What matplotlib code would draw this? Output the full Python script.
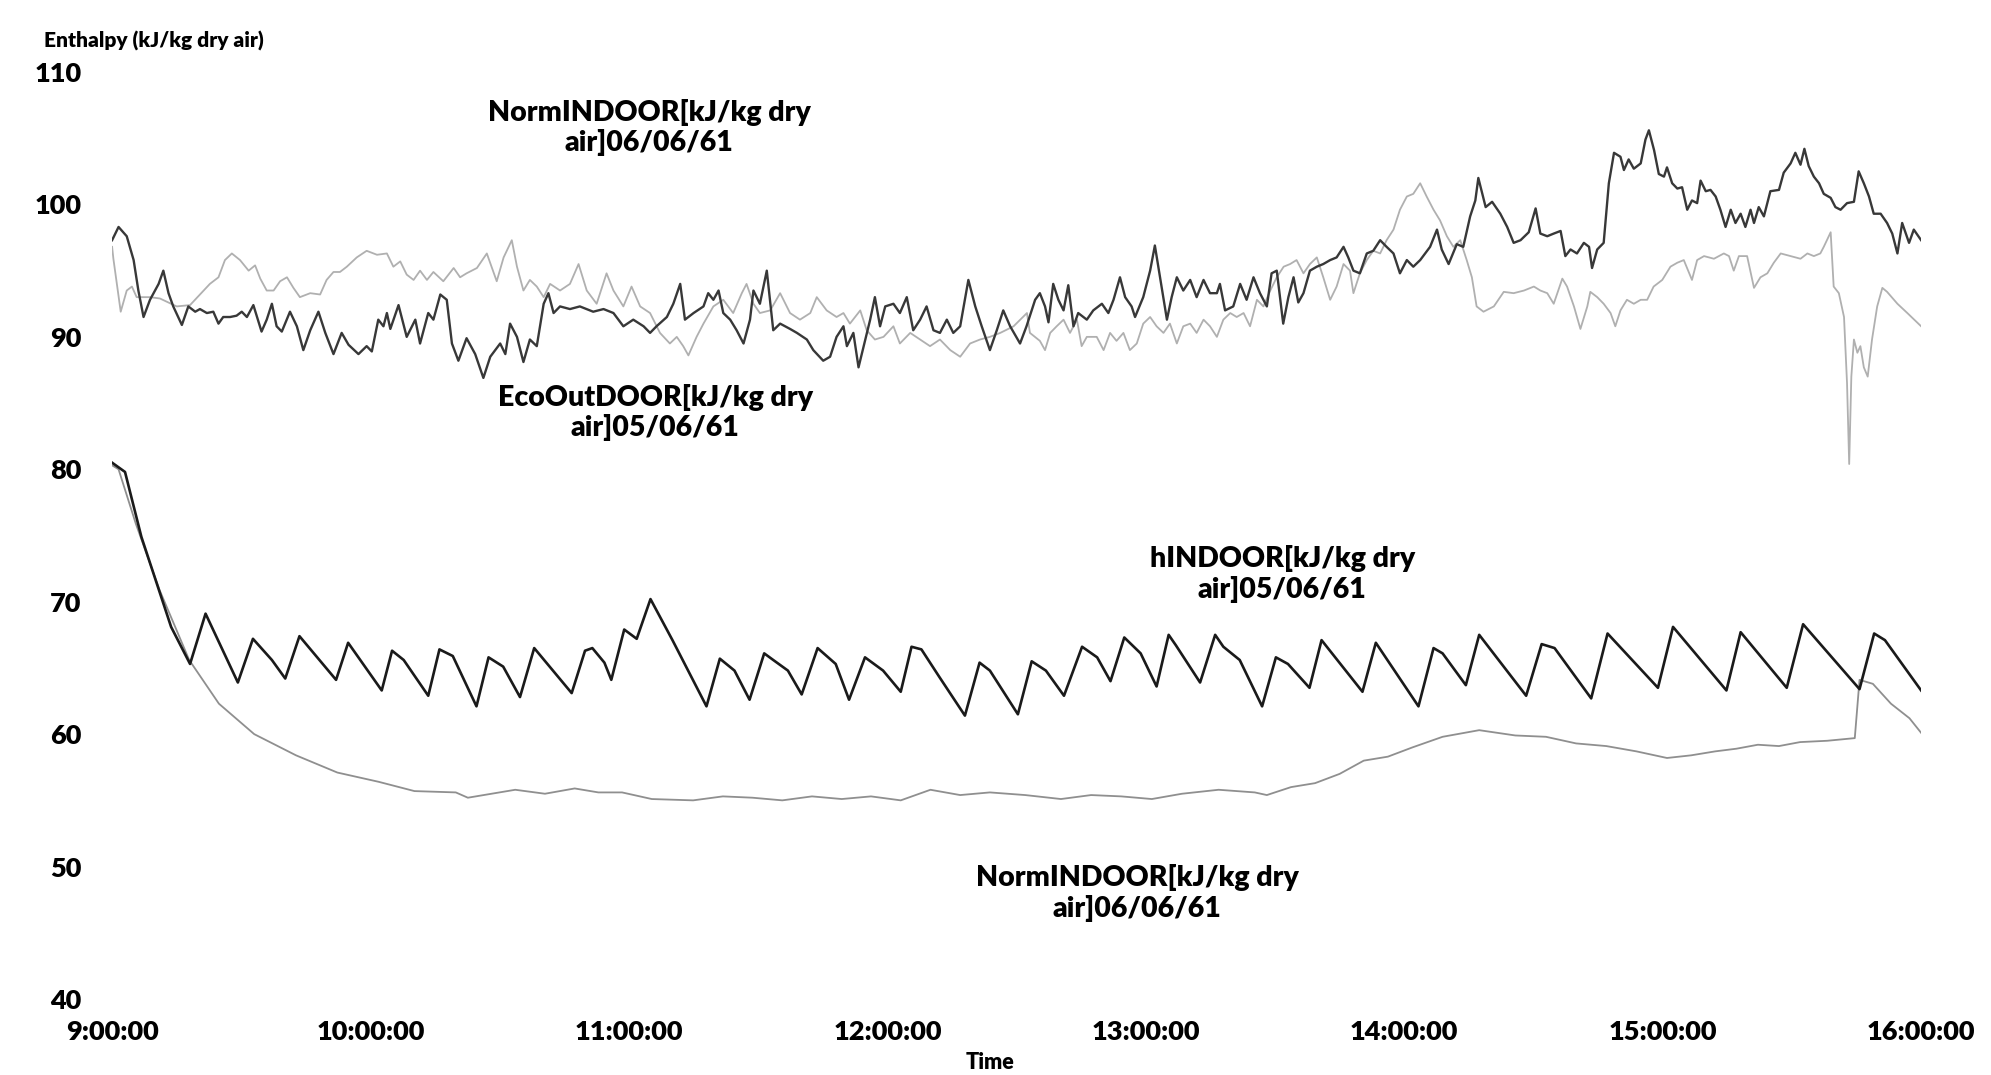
import matplotlib
matplotlib.use("Agg")
import matplotlib.pyplot as plt

# minutes after 9:00:00, enthalpy in kJ/kg dry air
# outdoor 05/06 (dark, noisy)
out0506_t = [0, 1.5, 3.4, 5.0, 6.1, 7.3, 8.8, 10.8, 11.9, 13.1, 14.2, 16.2, 17.7, 19.3, 20.4, 22.0,
             23.5, 24.7, 25.8, 27.4, 28.9, 30.1, 31.3, 32.8, 34.7, 35.9, 37.1, 38.2, 39.4, 41.3, 42.9,
             44.4, 46.0, 47.9, 49.5, 51.4, 53.3, 54.9, 57.2, 59.1, 60.3, 61.8, 63.0, 63.8, 64.6, 66.5,
             68.4, 70.4, 71.5, 73.4, 74.6, 76.2, 77.7, 78.9, 80.4, 82.3, 84.3, 86.2, 87.8, 90.1, 91.3,
             92.4, 94.0, 95.5, 97.0, 98.6, 100.2, 101.3, 102.5, 104.0, 106.3, 108.6, 111.7, 114.1,
             116.4, 118.7, 121.0, 123.4, 124.9, 126.4, 128.8, 130.3, 131.9, 133.0, 135.0, 137.3, 138.4,
             139.6, 140.8, 141.9, 143.5, 145.0, 146.6, 148.1, 148.9, 150.4, 152.0, 153.5, 155.1, 157.4,
             159.0, 161.3, 162.8, 165.1, 166.7, 168.2, 169.8, 170.6, 172.1, 173.3, 174.8, 176.0, 177.1,
             178.3, 179.5, 181.4, 182.9, 184.5, 186.0, 187.6, 189.1, 190.7, 192.2, 193.8, 195.3, 196.9,
             198.8, 200.4, 201.9, 203.8, 205.4, 206.9, 208.5, 210.8, 212.3, 214.3, 215.4, 216.6, 217.4,
             218.5, 219.7, 220.9, 222.0, 223.2, 224.3, 226.3, 227.8, 229.8, 231.3, 232.5, 234.0, 235.2,
             236.7, 237.5, 239.4, 241.0, 242.1, 243.3, 244.9, 246.0, 247.2, 248.7, 250.3, 251.8, 253.4,
             254.9, 256.5, 257.2, 258.4, 260.3, 261.9, 263.4, 265.0, 266.5, 268.1, 269.2, 270.4, 271.9,
             273.1, 274.3, 275.4, 276.6, 278.1, 279.7, 281.2, 282.8, 284.3, 285.9, 287.0, 288.2, 289.7,
             291.3, 292.8, 294.4, 295.9, 297.5, 299.0, 300.6, 302.1, 303.7, 306.0, 307.6, 308.7, 310.3,
             312.2, 313.7, 315.3, 316.5, 317.2, 318.9, 320.4, 322.3, 323.9, 325.4, 327.0, 328.9, 330.5,
             331.6, 333.2, 334.7, 336.3, 337.4, 338.6, 340.1, 341.7, 342.9, 343.6, 344.8, 346.3, 347.5,
             348.7, 350.2, 351.0, 352.1, 353.3, 354.9, 356.0, 356.8, 358.0, 359.1, 360.3, 361.0, 362.2,
             363.4, 364.5, 365.7, 366.8, 368.0, 368.8, 370.0, 371.1, 372.3, 373.4, 374.6, 375.8, 376.9,
             378.1, 379.2, 380.4, 381.2, 382.3, 383.5, 385.0, 387.0, 388.1, 389.7, 390.8, 392.0, 392.9,
             393.9, 395.1, 396.3, 397.4, 399.0, 400.1, 401.3, 402.8, 404.4, 405.5, 406.7, 407.9, 409.0,
             410.6, 412.1, 413.3, 414.5, 415.6, 417.2, 418.3, 420.0]
out0506_v = [97.3, 98.3, 97.6, 95.8, 93.5, 91.5, 92.8, 94.0, 95.0, 93.3, 92.3, 90.9, 92.3, 91.9, 92.1, 91.8,
             91.9, 91.0, 91.5, 91.5, 91.6, 91.9, 91.5, 92.4, 90.4, 91.3, 92.5, 90.8, 90.4, 91.9, 90.8,
             89.0, 90.5, 91.9, 90.3, 88.7, 90.3, 89.4, 88.7, 89.3, 88.9, 91.3, 90.8, 91.8, 90.6, 92.4,
             90.0, 91.3, 89.5, 91.8, 91.3, 93.2, 92.8, 89.5, 88.2, 89.9, 88.7, 86.9, 88.5, 89.5, 88.7,
             91.0, 90.0, 88.1, 89.8, 89.3, 92.5, 93.3, 91.8, 92.3, 92.1, 92.3, 91.9, 92.1,
             91.8, 90.8, 91.3, 90.8, 90.3, 90.8, 91.5, 92.5, 94.0, 91.3, 91.8, 92.3, 93.3,
             92.8, 93.5, 91.8, 91.3, 90.5, 89.5, 91.3, 93.5, 92.5, 95.0, 90.5, 91.0, 90.6,
             90.3, 89.8, 89.0, 88.2, 88.5, 90.0, 90.8, 89.3, 90.3, 87.7, 89.7, 91.3, 93.0,
             90.8, 92.3, 92.5, 91.8, 93.0, 90.5, 91.3, 92.3, 90.5, 90.3, 91.3, 90.3, 90.8,
             94.3, 92.3, 90.8, 89.0, 90.5, 92.0, 90.8, 89.5, 90.8, 92.8, 93.3, 92.3, 91.1,
             94.0, 92.8, 92.0, 93.9, 90.8, 91.8, 91.3, 92.0, 92.5, 91.8, 92.8, 94.5, 93.0,
             92.3, 91.5, 93.0, 95.0, 96.9, 94.5, 91.3, 93.0, 94.5, 93.5, 94.3, 93.0, 94.3,
             93.3, 93.3, 94.0, 92.0, 92.3, 94.0, 92.8, 94.5, 93.3, 92.3, 94.8, 95.0, 91.0,
             93.0, 94.5, 92.6, 93.3, 95.0, 95.3, 95.5, 95.8, 96.0, 96.8, 96.0, 95.0, 94.8,
             96.3, 96.5, 97.3, 96.8, 96.3, 94.8, 95.8, 95.3, 95.8, 96.8, 98.1, 96.6, 95.5,
             97.0, 96.8, 99.1, 100.3, 102.0, 99.8, 100.2, 99.3, 98.3, 97.1, 97.3, 97.9, 99.7,
             97.8, 97.6, 97.8, 98.0, 96.1, 96.6, 96.3, 97.1, 96.8, 95.2, 96.6, 97.1, 101.6,
             103.9, 103.6, 102.6, 103.4, 102.7, 103.1, 104.9, 105.6, 104.1, 102.3, 102.1, 102.8, 101.6,
             101.2, 101.3, 99.6, 100.3, 100.1, 101.8, 101.0, 101.1, 100.6, 99.6, 98.3, 99.6, 98.6,
             99.3, 98.3, 99.6, 98.6, 99.8, 99.1, 101.0, 101.1, 102.4, 103.1, 103.9, 103.0, 104.2,
             102.9, 102.1, 101.6, 100.8, 100.5, 99.8, 99.6, 100.1, 100.2, 102.5, 101.6, 100.6, 99.3,
             99.3, 98.6, 97.8, 96.3, 98.6, 97.1, 98.1, 97.3]

# outdoor 06/06 (light grey, noisy)
out0606_t = [0, 0.3, 2.0, 3.4, 4.6, 5.7, 8.8, 11.1, 15.0, 18.1, 20.4, 22.7, 24.7, 26.2, 27.8, 29.7,
             31.7, 33.2, 34.4, 35.9, 37.5, 39.0, 40.6, 42.1, 43.6, 46.0, 48.3, 49.8, 51.4, 52.9, 54.5,
             56.8, 59.1, 61.5, 63.8, 65.3, 66.9, 68.4, 70.0, 71.5, 73.1, 74.6, 76.9, 79.3, 80.8, 82.3,
             84.7, 87.0, 89.3, 90.9, 92.8, 94.0, 95.5, 97.0, 98.6, 100.2, 101.7, 104.0, 106.3, 108.3,
             110.2, 112.5, 114.8, 116.4, 118.7, 120.6, 122.6, 124.9, 127.2, 129.5, 131.1, 132.6, 133.8,
             135.7, 137.3, 139.6, 141.9, 144.2, 146.2, 147.3, 148.9, 150.4, 152.8, 155.1, 157.4, 159.7,
             162.1, 163.6, 165.9, 168.2, 169.8, 171.3, 173.7, 175.2, 177.1, 179.1, 181.4, 182.9, 185.3,
             187.6, 189.9, 192.2, 194.6, 196.9, 199.2, 201.5, 203.8, 206.2, 209.3, 212.4, 213.1, 215.4,
             216.6, 217.8, 219.3, 220.9, 222.4, 224.0, 225.1, 226.3, 228.6, 230.2, 231.7, 233.2, 234.8,
             236.3, 237.9, 239.4, 241.0, 242.5, 244.1, 245.6, 247.2, 248.7, 250.3, 251.8, 253.4, 254.9,
             256.5, 258.0, 259.6, 261.1, 262.7, 264.2, 265.8, 267.3, 268.9, 270.4, 272.0, 273.5, 275.0,
             276.6, 278.1, 279.7, 281.2, 282.8, 284.3, 285.9, 287.4, 288.2, 289.7, 291.3, 292.8, 294.4,
             295.9, 297.5, 299.0, 300.6, 302.1, 303.7, 305.2, 306.8, 308.3, 309.9, 311.4, 313.0, 314.5,
             315.7, 316.8, 318.4, 320.8, 323.1, 325.4, 327.8, 330.1, 331.6, 333.2, 334.7, 336.7, 337.8,
             339.4, 340.9, 342.5, 343.2, 344.8, 346.3, 347.9, 349.0, 350.2, 351.7, 353.3, 354.9, 356.4,
             357.9, 359.9, 361.8, 363.4, 364.9, 366.8, 368.0, 369.6, 371.9, 374.2, 375.4, 376.5, 377.7,
             379.6, 381.2, 382.7, 384.3, 385.8, 387.4, 389.7, 392.0, 393.6, 395.1, 396.6, 397.4, 399.0,
             399.7, 400.9, 402.1, 402.8, 403.3, 403.8, 404.4, 405.2, 405.9, 406.7, 407.6, 408.6, 409.8,
             411.0, 412.1, 414.5, 416.8, 420.0]
out0606_v = [96.8, 95.9, 91.9, 93.5, 93.8, 93.0, 93.0, 92.9, 92.3, 92.4, 93.2, 94.0, 94.5, 95.8, 96.3, 95.8,
             95.0, 95.4, 94.4, 93.5, 93.5, 94.2, 94.5, 93.7, 93.0, 93.3, 93.2, 94.3, 94.9, 94.9, 95.3,
             96.0, 96.5, 96.2, 96.3, 95.3, 95.7, 94.7, 94.3, 95.0, 94.3, 94.9, 94.2, 95.2, 94.5, 94.8,
             95.2, 96.3, 94.2, 96.0, 97.3, 95.3, 93.5, 94.3, 93.8, 93.0, 94.0, 93.5, 94.0, 95.5,
             93.5, 92.5, 94.8, 93.5, 92.3, 93.8, 92.3, 91.8, 90.3, 89.5, 90.0, 89.3, 88.6,
             90.0, 91.0, 92.3, 92.8, 91.8, 93.3, 94.0, 92.5, 91.8, 92.0, 93.3, 91.8, 91.3,
             91.8, 93.0, 92.0, 91.5, 91.8, 91.0, 92.0, 90.5, 89.8, 90.0, 90.8, 89.5, 90.3,
             89.8, 89.3, 89.8, 89.0, 88.5, 89.5, 89.8, 90.0, 90.3, 90.8, 91.8, 90.3, 89.7,
             89.0, 90.3, 90.8, 91.3, 90.3, 91.3, 89.3, 90.0, 90.0, 89.0, 90.3, 89.7, 90.3,
             89.0, 89.5, 91.0, 91.5, 90.8, 90.3, 91.0, 89.5, 90.8, 91.0, 90.3, 91.3, 90.8,
             90.0, 91.3, 91.8, 91.5, 91.8, 90.8, 92.8, 92.3, 93.5, 94.5, 95.3, 95.5, 95.8,
             94.8, 95.5, 96.0, 94.5, 92.8, 93.8, 95.5, 95.0, 93.3, 94.8, 95.8, 96.5, 96.3,
             97.3, 98.1, 99.6, 100.6, 100.8, 101.6, 100.6, 99.6, 98.8, 97.6, 96.8, 97.3, 95.8,
             94.5, 92.3, 91.9, 92.3, 93.4, 93.3, 93.5, 93.8, 93.5, 93.3, 92.5, 94.4, 93.8,
             92.3, 90.6, 92.3, 93.4, 93.0, 92.5, 91.8, 90.8, 92.0, 92.8, 92.5, 92.8, 92.8,
             93.8, 94.3, 95.3, 95.6, 95.8, 94.3, 95.8, 96.1, 95.9, 96.3, 96.1, 95.0, 96.1,
             96.1, 93.7, 94.5, 94.8, 95.6, 96.3, 96.1, 95.9, 96.3, 96.1, 96.3, 96.8, 97.9,
             93.8, 93.3, 91.5, 86.5, 80.4, 87.0, 89.8, 88.8, 89.3, 87.7, 87.0, 89.8, 92.3,
             93.7, 93.4, 92.5, 91.8, 90.8]

# indoor 05/06 (dark, sawtooth)
in0506_t = [0, 3.0, 6.8, 13.7, 18.1, 21.7, 29.2, 32.7, 37.1, 40.2, 43.5, 52.0, 54.8, 62.6, 65.0, 67.7,
            73.4, 76.0, 79.1, 84.6, 87.4, 90.8, 94.7, 98.0, 106.7, 109.8, 111.5, 114.3, 115.9, 118.9,
            121.8, 125.0, 130.1, 138.0, 141.1, 144.5, 148.0, 151.4, 153.5, 156.9, 160.1, 163.8, 168.0,
            171.1, 174.8, 179.0, 183.1, 185.6, 187.9, 192.1, 198.0, 201.4, 203.8, 210.3, 213.5, 216.8,
            221.0, 225.2, 228.7, 231.8, 235.0, 238.8, 242.5, 245.3, 247.0, 252.6, 256.1, 258.0, 261.8,
            267.0, 270.2, 273.0, 278.0, 280.8, 290.3, 293.4, 303.3, 306.8, 308.9, 314.3, 317.4, 328.3,
            331.9, 334.9, 343.4, 347.2, 358.9, 362.4, 374.8, 378.1, 388.8, 392.6, 405.7, 409.1, 411.6,
            420.0]
in0506_v = [80.5, 79.8, 74.9, 68.1, 65.3, 69.1, 63.9, 67.2, 65.6, 64.2, 67.4, 64.1, 66.9, 63.3, 66.3, 65.6,
            62.9, 66.4, 65.9, 62.1, 65.8, 65.1, 62.8, 66.5, 63.1, 66.3, 66.5, 65.4, 64.1, 67.9,
            67.2, 70.2, 67.1, 62.1, 65.7, 64.8, 62.6, 66.1, 65.6, 64.8, 63.0, 66.5, 65.3,
            62.6, 65.8, 64.8, 63.2, 66.6, 66.4, 64.3, 61.4, 65.4, 64.8, 61.5, 65.5, 64.8,
            62.9, 66.6, 65.8, 64.0, 67.3, 66.1, 63.6, 67.5, 66.7, 63.9, 67.5, 66.6, 65.6,
            62.1, 65.8, 65.3, 63.5, 67.1, 63.2, 66.9, 62.1, 66.5, 66.1, 63.7, 67.5, 62.9,
            66.8, 66.5, 62.7, 67.6, 63.5, 68.1, 63.3, 67.7, 63.5, 68.3, 63.4, 67.6, 67.1,
            63.3]

# indoor 06/06 (grey, smooth)
in0606_t = [0, 1.5, 5.5, 11.0, 17.9, 24.8, 33.0, 42.7, 52.3, 61.9, 70.2, 79.8, 82.6, 93.6, 100.5, 107.4,
            112.9, 118.4, 125.3, 134.9, 141.8, 148.7, 155.6, 162.5, 169.4, 176.2, 183.1, 190.0, 196.9,
            203.8, 212.0, 220.3, 227.3, 234.3, 241.4, 248.4, 256.9, 265.3, 268.1, 273.7, 279.3, 285.0,
            290.6, 296.2, 301.9, 308.9, 317.4, 325.8, 332.9, 339.9, 346.9, 353.9, 361.0, 366.6, 372.2,
            377.1, 382.1, 387.0, 391.9, 398.2, 404.6, 405.7, 408.8, 413.0, 417.3, 420.0]
in0606_v = [80.3, 80.0, 75.9, 70.9, 65.6, 62.3, 60.0, 58.4, 57.1, 56.4, 55.7, 55.6, 55.2, 55.8, 55.5, 55.9,
            55.6, 55.6, 55.1, 55.0, 55.3, 55.2, 55.0, 55.3, 55.1, 55.3, 55.0, 55.8, 55.4,
            55.6, 55.4, 55.1, 55.4, 55.3, 55.1, 55.5, 55.8, 55.6, 55.4, 56.0, 56.3, 57.0,
            58.0, 58.3, 59.0, 59.8, 60.3, 59.9, 59.8, 59.3, 59.1, 58.7, 58.2, 58.4, 58.7,
            58.9, 59.2, 59.1, 59.4, 59.5, 59.7, 64.1, 63.8, 62.3, 61.2, 60.1]

tick_minutes = [0, 60, 120, 180, 240, 300, 360, 420]
tick_labels = ["9:00:00", "10:00:00", "11:00:00", "12:00:00", "13:00:00",
               "14:00:00", "15:00:00", "16:00:00"]

plt.rcParams['font.family'] = ['Lato', 'DejaVu Sans']

fig = plt.figure(figsize=(19.91, 10.75), dpi=100)
ax = fig.add_axes([0.0563, 0.0707, 0.9086, 0.8623])

ax.plot(in0606_t, in0606_v, color='#8f8f8f', lw=1.3, zorder=2)
ax.plot(out0606_t, out0606_v, color='#b0b0b0', lw=1.3, zorder=2)
ax.plot(out0506_t, out0506_v, color='#383838', lw=1.7, zorder=3)
ax.plot(in0506_t, in0506_v, color='#1a1a1a', lw=1.9, zorder=3)

ax.set_xlim(0, 420)
ax.set_ylim(40, 110)
ax.set_xticks(tick_minutes)
ax.set_xticklabels(tick_labels)
ax.set_yticks(range(40, 111, 10))
ax.tick_params(length=0, labelsize=19.5)
ax.tick_params(axis='y', pad=22)
ax.tick_params(axis='x', pad=15)
for lab in ax.get_xticklabels() + ax.get_yticklabels():
    lab.set_fontweight('heavy')
for s in ax.spines.values():
    s.set_visible(False)

txt = dict(ha='center', va='center', fontsize=20.5, fontweight='heavy', linespacing=1.15)
ax.text(124.7, 105.8, "NormINDOOR[kJ/kg dry\nair]06/06/61", **txt)
ax.text(126.1, 84.3, "EcoOutDOOR[kJ/kg dry\nair]05/06/61", **txt)
ax.text(271.7, 72.1, "hINDOOR[kJ/kg dry\nair]05/06/61", **txt)
ax.text(238.0, 48.0, "NormINDOOR[kJ/kg dry\nair]06/06/61", **txt)

fig.text(0.022, 0.962, "Enthalpy (kJ/kg dry air)", ha='left', va='center',
         fontsize=15, fontweight='heavy')
fig.text(0.497, 0.012, "Time", ha='center', va='center', fontsize=15.5, fontweight='heavy')

fig.savefig("out.png", dpi=100, facecolor='white')
